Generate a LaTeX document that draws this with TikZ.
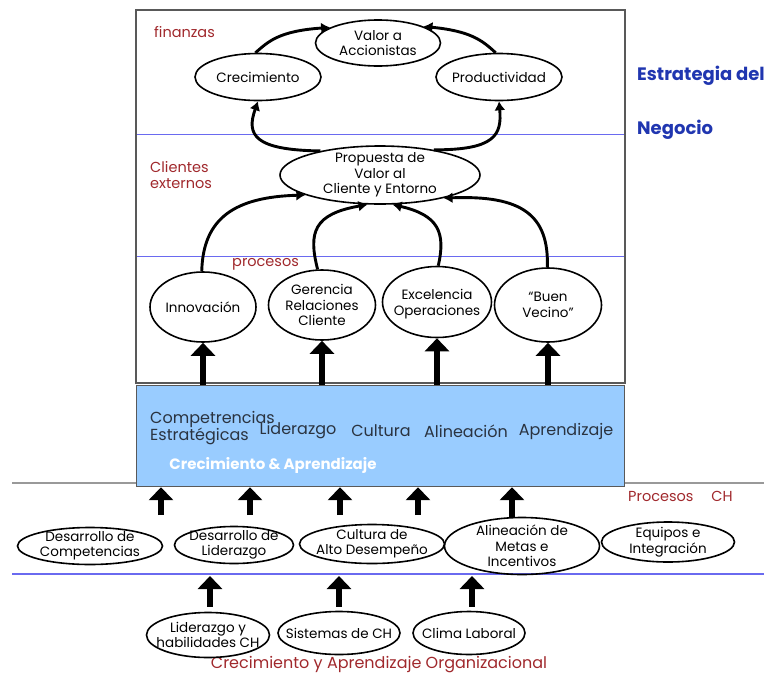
\documentclass[tikz,border=0pt]{standalone}
\usepackage{fontspec}
\setmainfont{Poppins}
\usetikzlibrary{shapes.geometric,arrows.meta}
\definecolor{redt}{HTML}{A0282C}
\definecolor{bluet}{HTML}{2036B0}
\definecolor{bline}{HTML}{6A6AF0}
\definecolor{boxfill}{HTML}{99CCFF}
\definecolor{boxtext}{HTML}{2A3340}
\begin{document}
\begin{tikzpicture}[x=1pt,y=-1pt,
  ell/.style={draw, ellipse, line width=1.6pt, inner sep=0pt},
  etext/.style={inner sep=0pt, align=center, font=\fontsize{13.5}{15.5}\selectfont},
  redlab/.style={text=redt, font=\fontsize{14.5}{16}\selectfont, align=left, inner sep=0pt},
  bluelab/.style={text=bluet, font=\bfseries\fontsize{18}{20}\selectfont, anchor=west, inner sep=0pt},
  boxlab/.style={text=boxtext, font=\fontsize{16}{15.5}\selectfont, inner sep=0pt, align=left},
  curv/.style={line width=2.9pt, -{Latex[length=9pt,width=11pt]}},
  bigup/.style={line width=6pt, -{Triangle[length=13pt,width=24pt]}},
  smallup/.style={line width=6pt, -{Triangle[length=13pt,width=24pt]}},
  bl/.style={draw=bline, line width=1pt},
]
\useasboundingbox (0,0) rectangle (764,673);
\clip (0,0) rectangle (764,673);

% frames and lines
\draw[bl] (136,134) -- (625,134);
\draw[bl] (136,256) -- (625,256);
\draw[draw=gray!80, line width=1.2pt] (12,483) -- (136,483);
\draw[draw=gray!80, line width=1.2pt] (624,483) -- (764,483);
\draw[bl, line width=1.3pt] (12,574) -- (764,574);
\draw[draw=gray!70!black, line width=1.5pt] (136,10) rectangle (625,383);
\node[draw=gray!70!black, line width=1.2pt, fill=boxfill, minimum width=488pt, minimum height=101pt,
      anchor=north west, inner sep=0pt] (cg) at (136,385) {};

% labels
\node[redlab, anchor=west] (lfin) at (154,32) {finanzas};
\node[redlab, anchor=west] (lcli) at (150,175) {Clientes\\externos};
\node[redlab, anchor=west] (lproc) at (232,264) {procesos};
\node[redlab, anchor=west] (lpch) at (628,496) {Procesos\hspace{18pt}CH};
\node[redlab, anchor=center, font=\fontsize{16}{17}\selectfont] (lcao) at (379,665) {Crecimiento y Aprendizaje Organizacional};
\node[bluelab] (lest) at (637,76) {Estrategia del};
\node[bluelab] (lneg) at (637,130) {Negocio};

% top ellipses
\node[ell, minimum width=125pt, minimum height=46pt] (valor) at (378,43) {};
\node[etext] (valor-t) at (valor) {Valor a\\Accionistas};
\node[ell, minimum width=126pt, minimum height=47pt] (crec) at (258,77) {};
\node[etext] (crec-t) at (crec) {Crecimiento};
\node[ell, minimum width=126pt, minimum height=47pt] (prod) at (499,77) {};
\node[etext] (prod-t) at (prod) {Productividad};
\node[ell, minimum width=200pt, minimum height=58pt] (prop) at (380,175) {};
\node[etext] (prop-t) at (prop) {Propuesta de\\Valor al\\Cliente y Entorno};

\node[ell, minimum width=106pt, minimum height=70pt] (inn) at (203,307) {};
\node[etext] (inn-t) at (inn) {Innovaci\'on};
\node[ell, minimum width=107pt, minimum height=70pt] (ger) at (322,305) {};
\node[etext] (ger-t) at (ger) {Gerencia\\Relaciones\\Cliente};
\node[ell, minimum width=109pt, minimum height=71pt] (exc) at (437,302) {};
\node[etext] (exc-t) at ([yshift=-2pt]exc.center) {Excelencia\\Operaciones};
\node[ell, minimum width=107pt, minimum height=74pt] (buen) at (548,305) {};
\node[etext] (buen-t) at (buen) {``Buen\\Vecino''};

% box labels
\node[boxlab, anchor=west] (bcomp) at (150,428) {Competrencias\\Estrat\'egicas};
\node[boxlab] (blid) at (298,431) {Liderazgo};
\node[boxlab] (bcul) at (381,431) {Cultura};
\node[boxlab] (bali) at (466,431) {Alineaci\'on};
\node[boxlab] (bapr) at (566,431) {Aprendizaje};
\node[boxlab, text=white, font=\bfseries\fontsize{15}{15}\selectfont] (bca) at (273,465) {Crecimiento \& Aprendizaje};

% CH process ellipses
\node[ell, minimum width=145pt, minimum height=37pt] (dc) at (90,546) {};
\node[etext] (dc-t) at (dc) {Desarrollo de\\Competencias};
\node[ell, minimum width=119pt, minimum height=37pt] (dl) at (234,545) {};
\node[etext] (dl-t) at (dl) {Desarrollo de\\Liderazgo};
\node[ell, minimum width=145pt, minimum height=39pt] (cad) at (372,544) {};
\node[etext] (cad-t) at (cad) {Cultura de\\Alto Desempe\~no};
\node[ell, minimum width=155pt, minimum height=57pt] (amei) at (522,546) {};
\node[etext] (amei-t) at (amei) {Alineaci\'on de\\Metas e\\Incentivos};
\node[ell, minimum width=133pt, minimum height=40pt] (ei) at (668,542) {};
\node[etext] (ei-t) at (ei) {Equipos e\\Integraci\'on};

% bottom ellipses
\node[ell, minimum width=123pt, minimum height=45pt] (lhch) at (208,635) {};
\node[etext] (lhch-t) at (lhch) {Liderazgo y\\habilidades CH};
\node[ell, minimum width=122pt, minimum height=43pt] (sch) at (339,633) {};
\node[etext] (sch-t) at (sch) {Sistemas de CH};
\node[ell, minimum width=112pt, minimum height=43pt] (cl) at (469,633) {};
\node[etext] (cl-t) at (cl) {Clima Laboral};

% curved arrows
\draw[curv] (crec.96) .. controls (268,42) and (278,31) .. (valor.162);
\draw[curv] (prod.98) .. controls (482,40) and (470,31) .. (valor.20);
\draw[curv] (prop.158) .. controls (254,150) and (246,135) .. (crec.south);
\draw[curv] (prop.25) .. controls (495,150) and (502,135) .. (prod.south);
\draw[curv] (inn.92) .. controls (203,218) and (235,197) .. (prop.195);
\draw[curv] (ger.97) .. controls (308,232) and (314,214) .. (prop.247);
\draw[curv] (exc.88) .. controls (446,232) and (438,215) .. (prop.293);
\draw[curv] (buen.91) .. controls (549,215) and (522,195) .. (prop.340);

% thick arrows into processes
\foreach \n in {inn,ger,exc,buen}
  \draw[bigup] (\n.south |- cg.north) -- (\n.south);

% short arrows into blue box
\foreach \x/\y [count=\i] in {161/515,250/515,340/515,418/515,512/518}
  \coordinate (s\i) at (\x,\y);
\foreach \i in {1,...,5}
  \draw[smallup] (s\i) -- (s\i |- cg.south);

% arrows from bottom ellipses
\coordinate (blueline) at (0,576);
\draw[smallup] (lhch.north) ++(2,-5) coordinate (b1) -- (b1 |- blueline);
\draw[smallup] (sch.north) ++(0,-4) coordinate (b2) -- (b2 |- blueline);
\draw[smallup] (cl.north) ++(3,-4) coordinate (b3) -- (b3 |- blueline);
\end{tikzpicture}
\end{document}
